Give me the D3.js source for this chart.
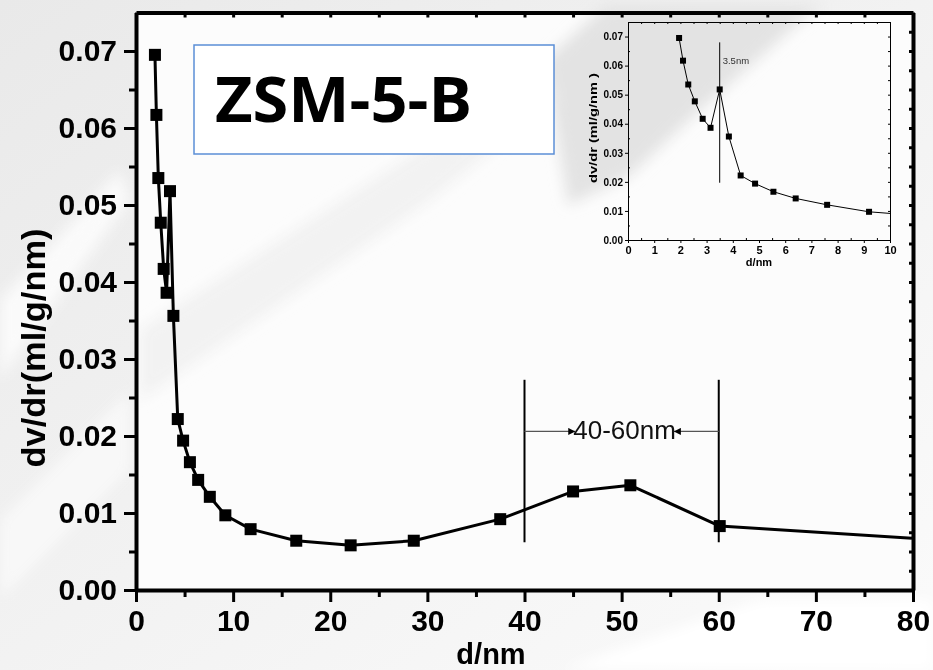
<!DOCTYPE html>
<html>
<head>
<meta charset="utf-8">
<script src="https://cdn.jsdelivr.net/npm/d3@7"></script>
<style>
  html, body { margin: 0; padding: 0; background: #efefef; }
  svg { display: block; }
</style>
</head>
<body>
<svg id="chart" width="933" height="670"></svg>
<script>
// Pore size distribution of ZSM-5-B (BJH dv/dr vs pore diameter)
const poreDiameter = [1.95, 2.1, 2.3, 2.55, 2.85, 3.15, 3.5, 3.85, 4.3, 4.85, 5.55, 6.4, 7.6, 9.2,
                      11.8, 16.5, 22.1, 28.6, 37.5, 45.0, 50.9, 60.1, 84.0];
const dvdr = [0.0695, 0.0617, 0.0535, 0.0477, 0.0417, 0.0386, 0.0518, 0.0356, 0.0222, 0.0194, 0.0166,
              0.0143, 0.0121, 0.0097, 0.0079, 0.0064, 0.0058, 0.0064, 0.0092, 0.0128, 0.0136, 0.0083, 0.0064];

const mainXTicks = [0, 10, 20, 30, 40, 50, 60, 70, 80];
const mainYTicks = [0, 0.01, 0.02, 0.03, 0.04, 0.05, 0.06, 0.07];
const insetXTicks = [0, 1, 2, 3, 4, 5, 6, 7, 8, 9, 10];
const insetYTicks = [0, 0.01, 0.02, 0.03, 0.04, 0.05, 0.06, 0.07];

const sampleName = "ZSM-5-B";
const mainXLabel = "d/nm";
const mainYLabel = "dv/dr(ml/g/nm)";
const insetXLabel = "d/nm";
const insetYLabel = "dv/dr (ml/g/nm )";

// mesopore range marker
const rangeBounds = [40, 60];
const rangeSpan = [0.0062, 0.0273];
const rangeArrowLevel = 0.0206;
const rangeTextX = 50.3;
const rangeText = "40-60nm";

// small mesopore peak marker in the inset
const peakPosition = 3.5;
const peakSpan = [0.0197, 0.068];
const peakText = "3.5nm";

const points = poreDiameter.map((d, i) => ({ d, v: dvdr[i] }));

const svg = d3.select("#chart");
const defs = svg.append("defs");

// ---------- backdrop ----------
const bgGrad = defs.append("linearGradient").attr("id", "bgGrad")
  .attr("x1", "0").attr("y1", "0").attr("x2", "1").attr("y2", "1");
bgGrad.append("stop").attr("offset", "0").attr("stop-color", "#e9e9e9");
bgGrad.append("stop").attr("offset", "0.55").attr("stop-color", "#f3f3f3");
bgGrad.append("stop").attr("offset", "1").attr("stop-color", "#fbfbfb");
svg.append("rect").attr("width", 933).attr("height", 670).attr("fill", "url(#bgGrad)");

defs.append("filter").attr("id", "soft").attr("x", "-20%").attr("y", "-20%")
  .attr("width", "140%").attr("height", "140%")
  .append("feGaussianBlur").attr("stdDeviation", 7);

const X = d3.scaleLinear().domain([0, 80]).range([136, 913]);
const Y = d3.scaleLinear().domain([0, 0.075]).range([590, 12.5]);

// plot panel
svg.append("rect")
  .attr("x", X(0)).attr("y", Y(0.075))
  .attr("width", X(80) - X(0)).attr("height", Y(0) - Y(0.075))
  .attr("fill", "#fcfcfc");

// diagonal streaks of the slide backdrop
const streaks = svg.append("g").attr("filter", "url(#soft)");
streaks.append("path")
  .attr("d", "M545,60 L605,6 L822,6 L800,22 L700,110 L628,177 L568,205 Z")
  .attr("fill", "#e3e3e3");
streaks.append("path")
  .attr("d", "M140,330 L420,150 L540,80 L560,95 L430,200 L140,400 Z")
  .attr("fill", "#efefef").attr("opacity", 0.8);
streaks.append("path")
  .attr("d", "M0,300 L120,170 L130,200 L0,380 Z")
  .attr("fill", "#fafafa");
streaks.append("path")
  .attr("d", "M0,520 L130,390 L130,470 L0,600 Z")
  .attr("fill", "#f8f8f8");
streaks.append("path")
  .attr("d", "M560,670 L760,600 L933,600 L933,670 Z")
  .attr("fill", "#ffffff");

// ---------- sample name box ----------
svg.append("rect")
  .attr("x", 194).attr("y", 45).attr("width", 360).attr("height", 109)
  .attr("fill", "#ffffff").attr("stroke", "#5b8ed6").attr("stroke-width", 1.5);
svg.append("text")
  .attr("x", 215).attr("y", 122)
  .attr("font-family", "'Open Sans', 'Noto Sans', sans-serif")
  .attr("font-weight", 700).attr("font-size", 63)
  .attr("textLength", 257).attr("lengthAdjust", "spacingAndGlyphs")
  .attr("fill", "#000").text(sampleName);

// ---------- inset (0-10 nm) ----------
const xi = d3.scaleLinear().domain([0, 10]).range([628, 890]);
const yi = d3.scaleLinear().domain([0, 0.075]).range([240, 22]);

defs.append("clipPath").attr("id", "insetClip").append("rect")
  .attr("x", xi(0)).attr("y", yi(0.075)).attr("width", xi(10) - xi(0)).attr("height", yi(0) - yi(0.075));

const inset = svg.append("g");
inset.append("path")
  .datum(points)
  .attr("clip-path", "url(#insetClip)")
  .attr("fill", "none").attr("stroke", "#000").attr("stroke-width", 1)
  .attr("d", d3.line().x(p => xi(p.d)).y(p => yi(p.v)));
inset.selectAll("rect.mk")
  .data(points.filter(p => p.d <= 10))
  .join("rect").attr("class", "mk")
  .attr("x", p => xi(p.d) - 3).attr("y", p => yi(p.v) - 3)
  .attr("width", 6).attr("height", 6).attr("fill", "#000");

inset.append("line")
  .attr("x1", xi(peakPosition)).attr("x2", xi(peakPosition))
  .attr("y1", yi(peakSpan[0])).attr("y2", yi(peakSpan[1]))
  .attr("stroke", "#000").attr("stroke-width", 1);
inset.append("text")
  .attr("x", xi(peakPosition) + 3).attr("y", yi(0.0607))
  .attr("font-family", "'Liberation Sans', Arial, sans-serif")
  .attr("font-size", 9.5).attr("fill", "#333").text(peakText);

function styleAxis(g, w, tickW) {
  g.select(".domain").attr("stroke", "#000").attr("stroke-width", w);
  g.selectAll(".tick line").attr("stroke", "#000").attr("stroke-width", tickW);
}

const halfStepsI = d3.range(0.5, 10, 1);
const allHalfI = d3.range(0, 10.01, 0.5);
const yMinorI = [0.005, 0.015, 0.025, 0.035, 0.045, 0.055, 0.065];
const yAllI = d3.range(0, 0.0751, 0.005);

// top and right frame of inset
const iTop = inset.append("g").attr("transform", `translate(0,${yi(0.075)})`)
  .call(d3.axisBottom(xi).tickValues(allHalfI).tickSize(2).tickSizeOuter(0).tickFormat(""));
styleAxis(iTop, 1, 1);
const iRight = inset.append("g").attr("transform", `translate(${xi(10)},0)`)
  .call(d3.axisLeft(yi).tickValues(yAllI).tickSize(2).tickSizeOuter(0).tickFormat(""));
styleAxis(iRight, 1, 1);

const iBottom = inset.append("g").attr("transform", `translate(0,${yi(0)})`)
  .call(d3.axisBottom(xi).tickValues(insetXTicks).tickSize(3).tickPadding(3).tickSizeOuter(0).tickFormat(d3.format("d")));
styleAxis(iBottom, 1, 1);
iBottom.selectAll("text").attr("font-family", "'Liberation Sans', Arial, sans-serif")
  .attr("font-weight", 700).attr("font-size", 11).attr("fill", "#000");
const iBottomMinor = inset.append("g").attr("transform", `translate(0,${yi(0)})`)
  .call(d3.axisTop(xi).tickValues(halfStepsI).tickSize(2).tickSizeOuter(0).tickFormat(""));
styleAxis(iBottomMinor, 0, 1);

const iLeft = inset.append("g").attr("transform", `translate(${xi(0)},0)`)
  .call(d3.axisLeft(yi).tickValues(insetYTicks).tickSize(3).tickPadding(2).tickSizeOuter(0).tickFormat(d3.format(".2f")));
styleAxis(iLeft, 1, 1);
iLeft.selectAll("text").attr("font-family", "'Liberation Sans', Arial, sans-serif")
  .attr("font-weight", 700).attr("font-size", 10).attr("fill", "#000");
const iLeftMinor = inset.append("g").attr("transform", `translate(${xi(0)},0)`)
  .call(d3.axisRight(yi).tickValues(yMinorI).tickSize(2).tickSizeOuter(0).tickFormat(""));
styleAxis(iLeftMinor, 0, 1);

inset.append("text")
  .attr("x", (xi(0) + xi(10)) / 2).attr("y", 266)
  .attr("text-anchor", "middle")
  .attr("font-family", "'Liberation Sans', Arial, sans-serif")
  .attr("font-weight", 700).attr("font-size", 11).text(insetXLabel);
inset.append("text")
  .attr("transform", `translate(597,128) rotate(-90)`)
  .attr("text-anchor", "middle")
  .attr("font-family", "'Liberation Sans', Arial, sans-serif")
  .attr("font-weight", 700).attr("font-size", 11)
  .attr("textLength", 110).attr("lengthAdjust", "spacingAndGlyphs")
  .text(insetYLabel);

// ---------- main series ----------
defs.append("clipPath").attr("id", "mainClip").append("rect")
  .attr("x", X(0)).attr("y", Y(0.075)).attr("width", X(80) - X(0)).attr("height", Y(0) - Y(0.075));

svg.append("path")
  .datum(points)
  .attr("clip-path", "url(#mainClip)")
  .attr("fill", "none").attr("stroke", "#000").attr("stroke-width", 3)
  .attr("stroke-linejoin", "round")
  .attr("d", d3.line().x(p => X(p.d)).y(p => Y(p.v)));

svg.selectAll("rect.main-mk")
  .data(points.filter(p => p.d <= 80))
  .join("rect").attr("class", "main-mk")
  .attr("x", p => X(p.d) - 6).attr("y", p => Y(p.v) - 6)
  .attr("width", 12).attr("height", 12).attr("fill", "#000");

// ---------- 40-60 nm range marker ----------
const ann = svg.append("g");
rangeBounds.forEach(b => {
  ann.append("line")
    .attr("x1", X(b)).attr("x2", X(b))
    .attr("y1", Y(rangeSpan[0])).attr("y2", Y(rangeSpan[1]))
    .attr("stroke", "#000").attr("stroke-width", 2);
});
const rangeLabel = ann.append("text")
  .attr("x", X(rangeTextX)).attr("y", Y(rangeArrowLevel) + 8)
  .attr("text-anchor", "middle")
  .attr("font-family", "'Liberation Sans', Arial, sans-serif")
  .attr("font-size", 26).attr("fill", "#111").text(rangeText);
const lb = rangeLabel.node().getBBox();

defs.append("marker").attr("id", "arrowHead")
  .attr("viewBox", "0 0 10 10").attr("refX", 10).attr("refY", 5)
  .attr("markerUnits", "userSpaceOnUse")
  .attr("markerWidth", 11).attr("markerHeight", 7).attr("orient", "auto")
  .append("path").attr("d", "M0,0 L10,5 L0,10 Z").attr("fill", "#000");

ann.append("line")
  .attr("x1", X(rangeBounds[0])).attr("x2", lb.x + 2)
  .attr("y1", Y(rangeArrowLevel)).attr("y2", Y(rangeArrowLevel))
  .attr("stroke", "#555").attr("stroke-width", 1.2)
  .attr("marker-end", "url(#arrowHead)");
ann.append("line")
  .attr("x1", X(rangeBounds[1])).attr("x2", lb.x + lb.width - 2)
  .attr("y1", Y(rangeArrowLevel)).attr("y2", Y(rangeArrowLevel))
  .attr("stroke", "#555").attr("stroke-width", 1.2)
  .attr("marker-end", "url(#arrowHead)");

// ---------- main axes ----------
const xMinor = [5, 15, 25, 35, 45, 55, 65, 75];
const yMinor = [0.005, 0.015, 0.025, 0.035, 0.045, 0.055, 0.065];
const tickFont = "'Liberation Sans', Arial, Helvetica, sans-serif";

const topAxis = svg.append("g").attr("transform", `translate(0,${Y(0.075)})`)
  .call(d3.axisBottom(X).tickValues(d3.range(0, 80.1, 5)).tickSize(5).tickSizeOuter(0).tickFormat(""));
styleAxis(topAxis, 4, 3);
const rightAxis = svg.append("g").attr("transform", `translate(${X(80)},0)`)
  .call(d3.axisLeft(Y).tickValues(d3.range(0.0025, 0.075, 0.0025)).tickSize(4).tickSizeOuter(0).tickFormat(""));
styleAxis(rightAxis, 4, 3);

const xMinorAxis = svg.append("g").attr("transform", `translate(0,${Y(0)})`)
  .call(d3.axisBottom(X).tickValues(xMinor).tickSize(7).tickSizeOuter(0).tickFormat(""));
styleAxis(xMinorAxis, 0, 3);
const bottomAxis = svg.append("g").attr("transform", `translate(0,${Y(0)})`)
  .call(d3.axisBottom(X).tickValues(mainXTicks).tickSize(12).tickPadding(8).tickSizeOuter(0).tickFormat(d3.format("d")));
styleAxis(bottomAxis, 4, 3);
bottomAxis.selectAll("text").attr("font-family", tickFont).attr("font-weight", 700)
  .attr("font-size", 30).attr("fill", "#000");

const yMinorAxis = svg.append("g").attr("transform", `translate(${X(0)},0)`)
  .call(d3.axisLeft(Y).tickValues(yMinor).tickSize(7).tickSizeOuter(0).tickFormat(""));
styleAxis(yMinorAxis, 0, 3);
const leftAxis = svg.append("g").attr("transform", `translate(${X(0)},0)`)
  .call(d3.axisLeft(Y).tickValues(mainYTicks).tickSize(12).tickPadding(7).tickSizeOuter(0).tickFormat(d3.format(".2f")));
styleAxis(leftAxis, 4, 3);
leftAxis.selectAll("text").attr("font-family", tickFont).attr("font-weight", 700)
  .attr("font-size", 30).attr("fill", "#000");

svg.append("text")
  .attr("x", 491).attr("y", 664)
  .attr("text-anchor", "middle")
  .attr("font-family", tickFont).attr("font-weight", 700).attr("font-size", 29)
  .text(mainXLabel);
svg.append("text")
  .attr("transform", "translate(45,348) rotate(-90)")
  .attr("text-anchor", "middle")
  .attr("font-family", tickFont).attr("font-weight", 700).attr("font-size", 33)
  .attr("textLength", 239).attr("lengthAdjust", "spacingAndGlyphs")
  .text(mainYLabel);
</script>
</body>
</html>
